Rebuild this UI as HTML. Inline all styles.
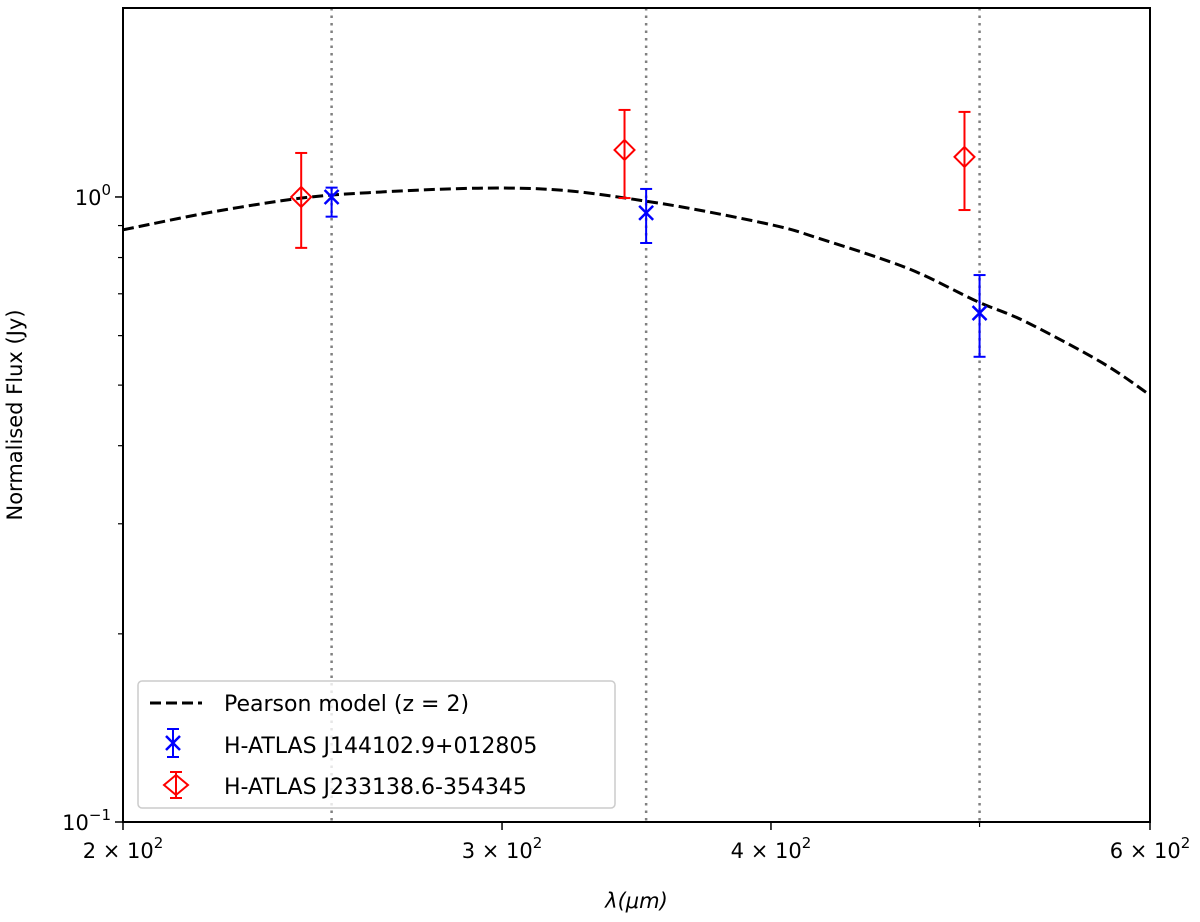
<!DOCTYPE html>
<html><head><meta charset="utf-8"><style>
body{margin:0;background:#fff;}
svg{display:block;font-family:"DejaVu Sans","Liberation Sans",sans-serif;}
</style></head><body>
<svg id="chart" width="1200" height="922" viewBox="0 0 1200 922"></svg>
<script>
const modelLambda=[200,220,241.6,260,292.4,320,351,375,404,420,449,470,499,525,570,600];
const modelFlux=[0.886,0.946,0.995,1.016,1.033,1.025,0.983,0.945,0.896,0.861,0.799,0.752,0.68,0.632,0.543,0.482];
const blueLambda=[250,350,500];
const blueFlux=[1.0,0.943,0.652];
const blueLo=[0.93,0.844,0.555];
const blueHi=[1.035,1.03,0.75];
const redLambda=[242,342,492];
const redFlux=[1.0,1.189,1.159];
const redLo=[0.829,0.996,0.953];
const redHi=[1.176,1.378,1.368];
const bandLambda=[250,350,500];
const xTicks=[200,300,400,600];
const xTickLabels=["2","3","4","6"];
const xMinor=[500];
const yMinor=[0.2,0.3,0.4,0.5,0.6,0.7,0.8,0.9];

const L=123,R=1150,T=8,B=822;
const xmin=200,xmax=600,ymin=0.1,ymax=2.006;
const X=v=>L+(Math.log10(v/xmin))/Math.log10(xmax/xmin)*(R-L);
const Y=v=>B-(Math.log10(v/ymin))/Math.log10(ymax/ymin)*(B-T);
const svg=document.getElementById('chart');
const NS='http://www.w3.org/2000/svg';
function mk(tag,attrs,parent){const e=document.createElementNS(NS,tag);for(const k in attrs)e.setAttribute(k,attrs[k]);(parent||svg).appendChild(e);return e;}

bandLambda.forEach(b=>{const l=mk('line',{x1:X(b),x2:X(b),y1:T,y2:B,stroke:'#808080','stroke-width':2.5,'stroke-dasharray':'2.5 5'});

});

const pts=modelLambda.map((v,i)=>[X(v),Y(modelFlux[i])]);
let d='M'+pts[0][0].toFixed(1)+' '+pts[0][1].toFixed(1);
for(let i=0;i<pts.length-1;i++){
 const p0=pts[Math.max(i-1,0)],p1=pts[i],p2=pts[i+1],p3=pts[Math.min(i+2,pts.length-1)];
 const c1=[p1[0]+(p2[0]-p0[0])/6,p1[1]+(p2[1]-p0[1])/6];
 const c2=[p2[0]-(p3[0]-p1[0])/6,p2[1]-(p3[1]-p1[1])/6];
 d+=` C${c1[0].toFixed(1)} ${c1[1].toFixed(1)} ${c2[0].toFixed(1)} ${c2[1].toFixed(1)} ${p2[0].toFixed(1)} ${p2[1].toFixed(1)}`;
}
const p=mk('path',{d:d,fill:'none',stroke:'#000','stroke-width':3,'stroke-dasharray':'11 5'});



function errbar(x,lo,hi,col){
 mk('line',{x1:x,x2:x,y1:Y(lo),y2:Y(hi),stroke:col,'stroke-width':2});
 mk('line',{x1:x-6,x2:x+6,y1:Y(lo),y2:Y(lo),stroke:col,'stroke-width':2});
 mk('line',{x1:x-6,x2:x+6,y1:Y(hi),y2:Y(hi),stroke:col,'stroke-width':2});
}
redLambda.forEach((v,i)=>{const x=X(v),y=Y(redFlux[i]);errbar(x,redLo[i],redHi[i],'red');
 const dm=mk('polygon',{points:`${x},${y-10} ${x+10},${y} ${x},${y+10} ${x-10},${y}`,fill:'none',stroke:'red','stroke-width':2});
 
 });
blueLambda.forEach((v,i)=>{const x=X(v),y=Y(blueFlux[i]);errbar(x,blueLo[i],blueHi[i],'blue');
 const g=mk('path',{d:`M${x-7} ${y-7}L${x+7} ${y+7}M${x-7} ${y+7}L${x+7} ${y-7}`,stroke:'blue','stroke-width':2.5});
 
 });

const fr=mk('rect',{x:L,y:T,width:R-L,height:B-T,fill:'none',stroke:'#000','stroke-width':2});



xTicks.forEach((v,i)=>{const x=X(v);mk('line',{x1:x,x2:x,y1:B,y2:B+8,stroke:'#000','stroke-width':1.5});
 const t=mk('text',{x:x,y:B+36,'text-anchor':'middle','font-size':21});
 t.innerHTML=xTickLabels[i]+' \u00d7 10<tspan dy="-10" font-size="15">2</tspan>';
 
 });
xMinor.forEach(v=>mk('line',{x1:X(v),x2:X(v),y1:B,y2:B+5,stroke:'#000','stroke-width':1.2}));
[[1,'0'],[0.1,'\u22121']].forEach(([v,e])=>{const y=Y(v);mk('line',{x1:L-8,x2:L,y1:y,y2:y,stroke:'#000','stroke-width':1.5});
 const t=mk('text',{x:L-12,y:y+8,'text-anchor':'end','font-size':21});
 t.innerHTML='10<tspan dy="-10" font-size="15">'+e+'</tspan>';
 
 });
yMinor.forEach(v=>mk('line',{x1:L-5,x2:L,y1:Y(v),y2:Y(v),stroke:'#000','stroke-width':1.2}));

const xt=mk('text',{x:(L+R)/2,y:908,'text-anchor':'middle','font-size':21,'font-style':'italic'});
xt.textContent='λ(μm)';


const yt=mk('text',{x:0,y:0,'text-anchor':'middle','font-size':21,transform:`translate(22,${(T+B)/2}) rotate(-90)`});
yt.textContent='Normalised Flux (Jy)';



const lg=mk('g',{});


mk('rect',{x:138,y:681,width:477,height:127,rx:4,fill:'rgba(255,255,255,0.8)',stroke:'#ccc','stroke-width':1.5},lg);
mk('line',{x1:150,x2:202,y1:703,y2:703,stroke:'#000','stroke-width':3,'stroke-dasharray':'11 5'},lg);
mk('line',{x1:173,x2:173,y1:729,y2:757,stroke:'blue','stroke-width':2},lg);
mk('line',{x1:167,x2:179,y1:729,y2:729,stroke:'blue','stroke-width':2},lg);
mk('line',{x1:167,x2:179,y1:757,y2:757,stroke:'blue','stroke-width':2},lg);
mk('path',{d:'M166 736L180 750M166 750L180 736',stroke:'blue','stroke-width':2.5},lg);
mk('line',{x1:176,x2:176,y1:772,y2:798,stroke:'red','stroke-width':2},lg);
mk('line',{x1:170,x2:182,y1:772,y2:772,stroke:'red','stroke-width':2},lg);
mk('line',{x1:170,x2:182,y1:798,y2:798,stroke:'red','stroke-width':2},lg);
mk('polygon',{points:'176,775 188,785 176,795 164,785',fill:'none',stroke:'red','stroke-width':2},lg);
[['Pearson model (z = 2)',711,'legend-entry-model'],['H-ATLAS J144102.9+012805',753,'legend-entry-blue'],['H-ATLAS J233138.6-354345',794,'legend-entry-red']].forEach(([s,y,n])=>{
 const t=mk('text',{x:224,y:y,'font-size':22},lg);t.textContent=s;
 
 });
</script>
</body></html>
